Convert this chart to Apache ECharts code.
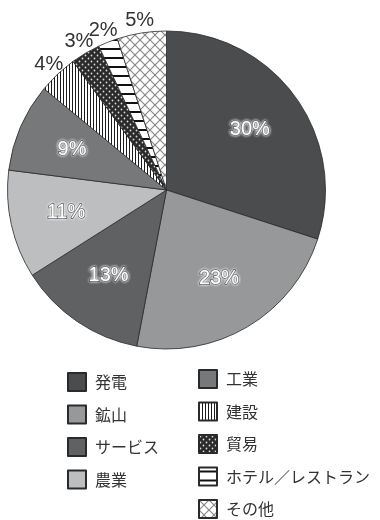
<!DOCTYPE html>
<html><head><meta charset="utf-8">
<script src="https://cdn.jsdelivr.net/npm/echarts@6/dist/echarts.min.js"></script>
<style>html,body{margin:0;padding:0;background:#fff}#c{width:380px;height:520px}</style>
</head><body><div id="c"></div>
<script>
// ---- data ----
const categories = ['発電','鉱山','サービス','農業','工業','建設','貿易','ホテル／レストラン','その他'];
const values = [30, 23, 13, 11, 9, 4, 3, 2, 5];
const insideLabel = [true, true, true, true, true, false, false, false, false];
const legendLeftItems = ['発電','鉱山','サービス','農業'];
const legendRightItems = ['工業','建設','貿易','ホテル／レストラン','その他'];

// ---- fills ----
function pattern(w, h, draw) {
  const c = document.createElement('canvas');
  c.width = w; c.height = h;
  const ctx = c.getContext('2d');
  draw(ctx, w, h);
  return { image: c, repeat: 'repeat' };
}
const vStripes = pattern(3, 3, (g, w, h) => {
  g.fillStyle = '#fff'; g.fillRect(0, 0, w, h);
  g.fillStyle = '#1a1a1a'; g.fillRect(0, 0, 1, h);
});
const dots = pattern(6, 6, (g, w, h) => {
  g.fillStyle = '#2a2a2a'; g.fillRect(0, 0, w, h);
  g.fillStyle = '#d8d8d8';
  g.beginPath(); g.arc(1.5, 1.5, 0.9, 0, Math.PI * 2); g.fill();
  g.beginPath(); g.arc(4.5, 4.5, 0.9, 0, Math.PI * 2); g.fill();
});
const hStripes = pattern(10, 9, (g, w, h) => {
  g.fillStyle = '#fff'; g.fillRect(0, 0, w, h);
  g.fillStyle = '#111'; g.fillRect(0, 3, w, 2);
});
const crossHatch = pattern(10, 10, (g, w, h) => {
  g.fillStyle = '#fff'; g.fillRect(0, 0, w, h);
  g.strokeStyle = '#8a8a8a'; g.lineWidth = 1.2;
  g.beginPath(); g.moveTo(0, 0); g.lineTo(w, h); g.stroke();
  g.beginPath(); g.moveTo(w, 0); g.lineTo(0, h); g.stroke();
});
const fills = ['#4b4c4e', '#97989a', '#606163', '#bdbec0', '#77787a', vStripes, dots, hStripes, crossHatch];

const CENTER = [166.5, 190];
const R = 159;

const chart = echarts.init(document.getElementById('c'), null, { renderer: 'canvas' });

const mainData = categories.map((n, i) => ({
  name: n, value: values[i],
  itemStyle: { color: fills[i], borderColor: '#2a2a2a', borderWidth: 0.8 }
}));
const innerData = categories.map((n, i) => ({
  name: n, value: values[i],
  label: { show: insideLabel[i] }
}));
const outerData = categories.map((n, i) => ({
  name: n, value: values[i],
  label: { show: !insideLabel[i] }
}));

const legendCommon = {
  orient: 'vertical',
  icon: 'rect',
  itemWidth: 18, itemHeight: 18, itemGap: 12.5,
  padding: 0,
  height: 160,
  selectedMode: false,
  textStyle: { fontFamily: 'Noto Sans CJK JP', fontSize: 16, lineHeight: 18, color: '#333', padding: [0, 0, 0, 4] }
};

chart.setOption({
  animation: false,
  legend: [
    Object.assign({}, legendCommon, { data: legendLeftItems, left: 67, top: 372 }),
    Object.assign({}, legendCommon, { data: legendRightItems, left: 198, top: 369 })
  ],
  series: [
    {
      type: 'pie', center: CENTER, radius: [0, R], startAngle: 90, clockwise: true,
      label: { show: false }, labelLine: { show: false },
      emphasis: { disabled: true }, silent: true,
      data: mainData
    },
    {
      type: 'pie', center: CENTER, radius: [0, 200], startAngle: 90, clockwise: true,
      avoidLabelOverlap: false,
      itemStyle: { color: 'rgba(0,0,0,0)', borderWidth: 0 },
      label: {
        position: 'inside', formatter: '{c}%',
        fontFamily: 'Liberation Sans', fontSize: 20, color: '#fff',
        textBorderColor: '#333', textBorderWidth: 1.5,
        textShadowColor: '#fff', textShadowBlur: 3
      },
      labelLine: { show: false },
      emphasis: { disabled: true }, silent: true,
      data: innerData
    },
    {
      type: 'pie', center: CENTER, radius: [156, 182], startAngle: 90, clockwise: true,
      avoidLabelOverlap: false,
      labelLayout: { hideOverlap: false },
      itemStyle: { color: 'rgba(0,0,0,0)', borderWidth: 0 },
      label: {
        position: 'inside', formatter: '{c}%',
        fontFamily: 'Liberation Sans', fontSize: 20, color: '#333'
      },
      labelLine: { show: false },
      emphasis: { disabled: true }, silent: true,
      data: outerData
    }
  ]
});
</script>
</body></html>
